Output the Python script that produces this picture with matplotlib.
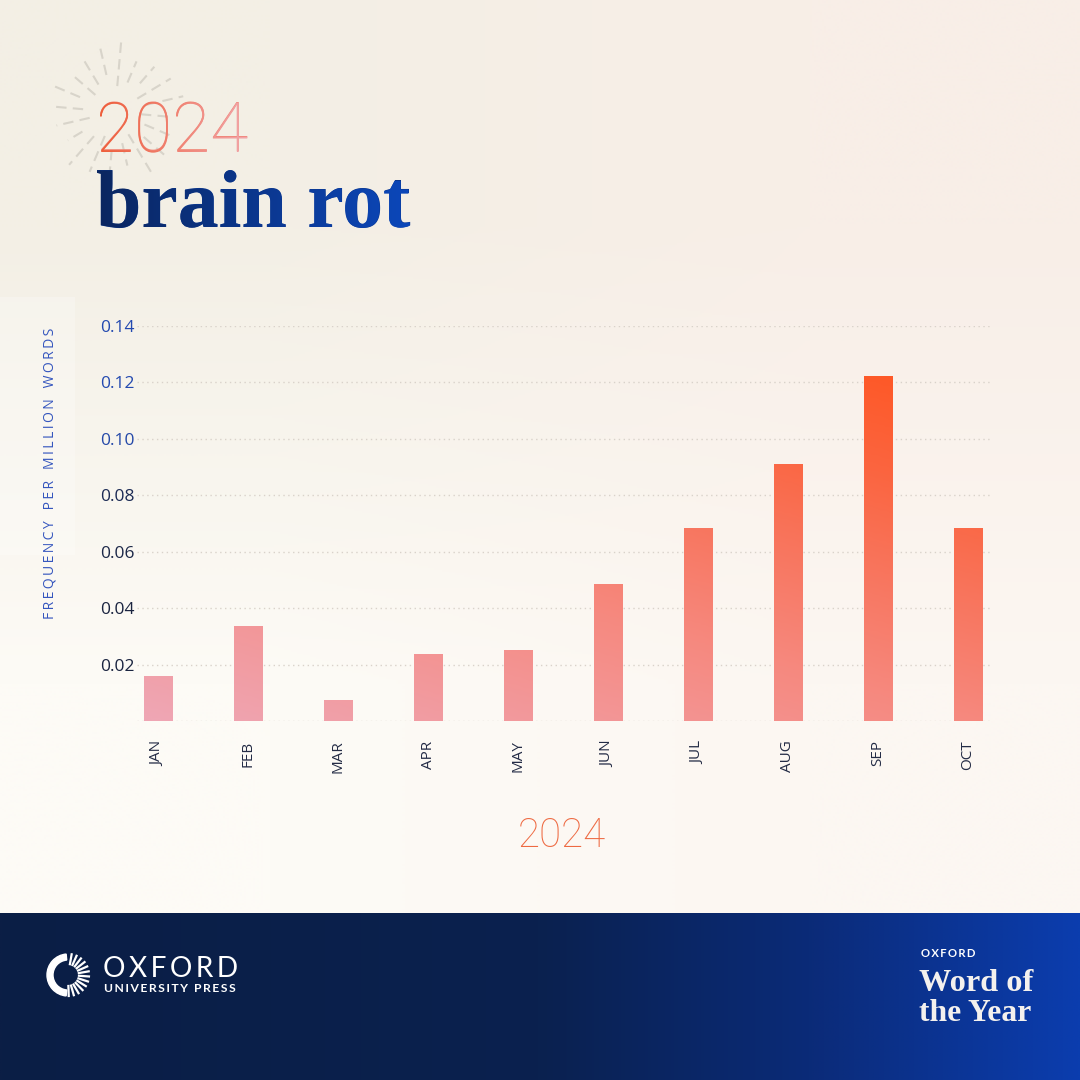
import matplotlib
matplotlib.use("Agg")
import matplotlib.pyplot as plt
import numpy as np
from matplotlib.colors import LinearSegmentedColormap, to_rgb
from matplotlib.patches import Wedge, PathPatch, Rectangle
from matplotlib.textpath import TextPath
from matplotlib.transforms import Affine2D

# data
months = ["JAN", "FEB", "MAR", "APR", "MAY", "JUN", "JUL", "AUG", "SEP", "OCT"]
freq = [0.016, 0.0337, 0.0075, 0.0238, 0.0252, 0.0486, 0.0684, 0.0911, 0.1223, 0.0684]
yticks = [0, 0.02, 0.04, 0.06, 0.08, 0.10, 0.12, 0.14]
ytick_labels = ["", "0.02", "0.04", "0.06", "0.08", "0.10", "0.12", "0.14"]
ytick_colors = ["#1A2440", "#1A2440", "#1A2440", "#1C2848", "#1C2B55", "#2448A8", "#2349B0", "#2349B0"]

W = H = 1080
fig = plt.figure(figsize=(10.8, 10.8), dpi=100)
renderer = fig.canvas.get_renderer()

# background layer in pixel coordinates (y down)
bg = fig.add_axes([0, 0, 1, 1], zorder=0)
bg.axis("off")

corners = np.array([[to_rgb("#F3EFE5"), to_rgb("#F8EEE7")],
                    [to_rgb("#FDFBF6"), to_rgb("#FCF7F2")]])
bg.imshow(corners, extent=(0, W, 913, 0), interpolation="bilinear", aspect="auto", zorder=0)
bg.add_patch(Rectangle((0, 297), 75, 258, color="white", alpha=0.25, lw=0, zorder=0.5))

foot_cmap = LinearSegmentedColormap.from_list(
    "foot", [(0, "#0B1E45"), (0.5, "#0A214F"), (0.75, "#0B2B78"), (1, "#0B3DAE")])
foot = foot_cmap(np.linspace(0, 1, 256))[None, :, :3]
bg.imshow(foot, extent=(0, W, H, 913), interpolation="bilinear", aspect="auto", zorder=0)

# sparkle rays behind the year
cx, cy = 115, 112
for k, ang in enumerate(np.arange(5, 365, 18)):
    r0 = 26 + (k % 3) * 6
    r1 = 55 + (k % 4) * 5
    a = np.deg2rad(ang)
    bg.plot([cx + r0 * np.cos(a), cx + r1 * np.cos(a)],
            [cy + r0 * np.sin(a), cy + r1 * np.sin(a)],
            color="#D8D4CA", lw=1.5, ls=(0, (5, 3)), solid_capstyle="round", zorder=1)


def fit(t, target, dim="w"):
    bb = t.get_window_extent(renderer)
    cur = bb.width if dim == "w" else bb.height
    t.set_fontsize(t.get_fontsize() * target / cur)
    return t.get_fontsize()


def grad_text(x, y, s, c0, c1, target_w, **kw):
    mid = tuple((np.array(to_rgb(c0)) + np.array(to_rgb(c1))) / 2)
    t = bg.text(x, y, s, color=mid, ha="left", va="baseline", fontsize=40, zorder=3, **kw)
    fs = fit(t, target_w)
    tp = TextPath((0, 0), s, size=fs * 100 / 72, prop=t.get_fontproperties())
    path = Affine2D().scale(1, -1).translate(x, y).transform_path(tp)
    patch = PathPatch(path, fc="none", ec="none", transform=bg.transData)
    bg.add_patch(patch)
    ext = path.get_extents()
    cm = LinearSegmentedColormap.from_list("g", [c0, c1])
    grad = cm(np.linspace(0, 1, 256))[None, :, :3]
    im = bg.imshow(grad, extent=(ext.x0, ext.x1, ext.y1, ext.y0), aspect="auto",
                   interpolation="bilinear", zorder=4)
    im.set_clip_path(patch)


grad_text(96, 152, "2024", "#EE5E3A", "#F2A6AA", 152, family=["Roboto", "DejaVu Sans"], weight="light")
grad_text(96, 227, "brain rot", "#0A2660", "#0C47BA", 314, family=["Liberation Serif", "DejaVu Serif"], weight="bold")

# x axis year
t = bg.text(562, 847, "2024", color="#EE6A42", ha="center", va="baseline", fontsize=30,
            family=["Roboto", "DejaVu Sans"], weight="light", zorder=3)
fit(t, 88)

# footer: Oxford University Press logo
bg.add_patch(Wedge((68, 975), 21, 95, 265, width=6, color="white", zorder=3))
for ang in np.arange(-80, 91, 14):
    a = np.deg2rad(ang)
    bg.plot([68 + 11 * np.cos(a), 68 + 21 * np.cos(a)],
            [975 + 11 * np.sin(a), 975 + 21 * np.sin(a)],
            color="white", lw=1.6, zorder=3)
sp = "\u2009"
t = bg.text(103, 977, sp.join("OXFORD"), color="white", ha="left", va="baseline", fontsize=16,
            family=["Lato", "DejaVu Sans"], zorder=3)
fit(t, 135)
t = bg.text(104, 992, sp.join("UNIVERSITY") + "  " + sp.join("PRESS"), color="white", ha="left",
            va="baseline", fontsize=8, family=["Lato", "DejaVu Sans"], weight="bold", zorder=3)
fit(t, 132)

# footer: Word of the Year mark
t = bg.text(921, 957, sp.join("OXFORD"), color="white", ha="left", va="baseline", fontsize=6,
            family=["Lato", "DejaVu Sans"], weight="bold", zorder=3)
fit(t, 55)
for line, base in [("Word of", 991), ("the Year", 1021)]:
    t = bg.text(919, base, line, color="#F4F1EE", ha="left", va="baseline", fontsize=20,
                family=["Liberation Serif", "DejaVu Serif"], weight="bold", zorder=3)
    fit(t, 114 if line == "Word of" else 112)

bg.set_xlim(0, W)
bg.set_ylim(H, 0)

# chart
ax = fig.add_axes([137 / W, 1 - 721 / H, 853 / W, 395 / H], zorder=1)
ax.patch.set_alpha(0)
x = np.arange(len(months))
bars = ax.bar(x, freq, width=0.32, color="none", edgecolor="none", zorder=2)

bar_cmap = LinearSegmentedColormap.from_list(
    "bars", [(0, "#EFA6B4"), (0.4, "#F6897F"), (0.6, "#F8765F"), (0.78, "#FB6540"), (1, "#FF5520")])
gx = np.linspace(-0.5, 9.5, 200)
gy = np.linspace(0, 0.14, 200)
GX, GY = np.meshgrid(gx, gy)
s = np.clip(0.4 * GX / 9 + 0.6 * GY / 0.125, 0, 1)
field = bar_cmap(s)[:, :, :3]
for b in bars:
    im = ax.imshow(field, extent=(-0.5, 9.5, 0, 0.14), origin="lower", aspect="auto",
                   interpolation="bilinear", zorder=2)
    im.set_clip_path(b)

ax.set_xlim(-0.235, 9.245)
ax.set_ylim(0, 0.14)
ax.set_yticks(yticks)
ax.set_yticklabels(ytick_labels, family=["Open Sans", "DejaVu Sans"], fontsize=12.5)
for lab, c in zip(ax.get_yticklabels(), ytick_colors):
    lab.set_color(c)
ax.set_xticks(x)
ax.set_xticklabels(months, rotation=90, va="top",
                   family=["Open Sans", "DejaVu Sans"], fontsize=11, color="#232B45")
ax.tick_params(axis="y", length=0, pad=2)
ax.tick_params(axis="x", length=0, pad=14)
ax.yaxis.grid(True, linestyle=(0, (1, 2.5)), color="#D9D2CA", linewidth=1)
ax.set_axisbelow(True)
for side in ax.spines.values():
    side.set_visible(False)

ax.set_ylabel(sp.join("FREQUENCY") + "   " + sp.join("PER") + "   " + sp.join("MILLION") + "   " + sp.join("WORDS"),
              color="#3556BE", family=["Open Sans", "DejaVu Sans"], fontsize=9)
fit(ax.yaxis.label, 292, dim="h")
ax.yaxis.set_label_coords((58 - 137) / 853, (721 - 473) / 395)

fig.savefig("out.png", dpi=100)
